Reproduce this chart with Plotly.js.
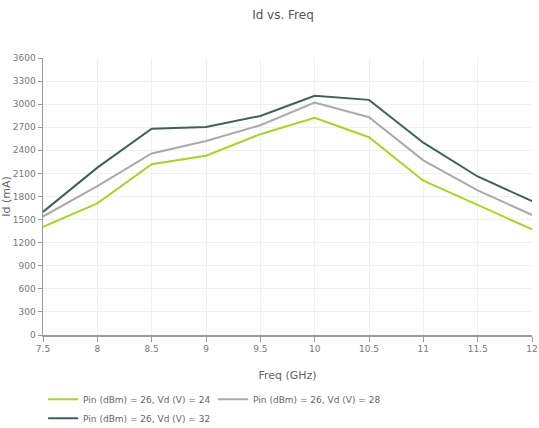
<!DOCTYPE html>
<html>
<head>
<meta charset="utf-8">
<script src="https://cdn.plot.ly/plotly-3.0.1.min.js"></script>
<style>html,body{margin:0;padding:0;background:#fff;}#chart{width:539px;height:428px;}</style>
</head>
<body>
<div id="chart"></div>
<script>
const freq = [7.5, 8, 8.5, 9, 9.5, 10, 10.5, 11, 11.5, 12];
const id24 = [1405, 1710, 2220, 2330, 2610, 2822, 2570, 2005, 1690, 1373];
const id28 = [1540, 1935, 2360, 2521, 2726, 3022, 2830, 2270, 1880, 1560];
const id32 = [1600, 2175, 2680, 2704, 2847, 3108, 3056, 2499, 2060, 1740];
const seriesNames = ["Pin (dBm) = 26, Vd (V) = 24", "Pin (dBm) = 26, Vd (V) = 28", "Pin (dBm) = 26, Vd (V) = 32"];
const xTicks = [7.5, 8, 8.5, 9, 9.5, 10, 10.5, 11, 11.5, 12];
const yTicks = [0, 300, 600, 900, 1200, 1500, 1800, 2100, 2400, 2700, 3000, 3300, 3600];

const colors = ["#a8d422", "#aaaaaa", "#3e615b"];
const ys = [id24, id28, id32];
const traces = ys.map((y, i) => ({
  x: freq, y: y, type: "scatter", mode: "lines", name: seriesNames[i],
  line: {color: colors[i], width: 2}
}));

const font = "DejaVu Sans, Verdana, sans-serif";
const layout = {
  width: 539, height: 428,
  margin: {l: 43, r: 7, t: 58, b: 93},
  paper_bgcolor: "#fff", plot_bgcolor: "#fff",
  font: {family: font, color: "#666", size: 9},
  title: {text: "Id vs. Freq", x: 0.525, xanchor: "center", y: 0.975, yanchor: "top", font: {family: font, size: 12, color: "#555"}},
  xaxis: {
    range: [7.5, 12], tickvals: xTicks, ticktext: xTicks.map(String),
    showline: true, linecolor: "#999", linewidth: 1.5,
    ticks: "outside", ticklen: 5, tickcolor: "#999",
    showgrid: true, gridcolor: "#f0f0f0", zeroline: false,
    tickfont: {size: 9, color: "#777"},
    title: {text: "Freq (GHz)", font: {size: 11, color: "#666"}, standoff: 18}
  },
  yaxis: {
    range: [0, 3600], tickvals: yTicks, ticktext: yTicks.map(String),
    showline: true, linecolor: "#999", linewidth: 1.5,
    ticks: "outside", ticklen: 4, tickcolor: "#999",
    showgrid: true, gridcolor: "#f0f0f0", zeroline: false,
    tickfont: {size: 9, color: "#777"},
    title: {text: "Id (mA)", font: {size: 11, color: "#666"}, standoff: 8}
  },
  legend: {
    orientation: "h", xref: "container", x: 0.08, xanchor: "left",
    yref: "container", y: 0.101, yanchor: "top",
    font: {size: 9, color: "#666"}, entrywidth: 125, itemwidth: 30,
    tracegroupgap: 0
  },
  showlegend: true
};
Plotly.newPlot("chart", traces, layout, {displayModeBar: false, staticPlot: true});
</script>
</body>
</html>
